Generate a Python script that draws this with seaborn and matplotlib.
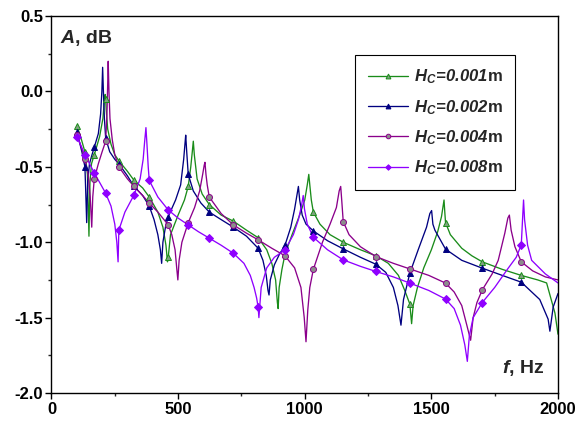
import matplotlib
matplotlib.use("Agg")
import matplotlib.pyplot as plt
from matplotlib.lines import Line2D
from matplotlib.ticker import MultipleLocator
import pandas as pd
import seaborn as sns

sns.set_style("ticks")
plt.rcParams["font.family"] = ["Liberation Sans", "DejaVu Sans"]
plt.rcParams["mathtext.fontset"] = "custom"
plt.rcParams["mathtext.it"] = "Liberation Sans:italic:bold"
plt.rcParams["mathtext.rm"] = "Liberation Sans:italic:bold"
plt.rcParams["mathtext.bf"] = "Liberation Sans:italic:bold"

# frequencies where the symbols sit (same for all curves)
f_mark = [101, 132, 169, 214, 266, 326, 386, 461, 540, 623, 718, 816, 922,
          1034, 1152, 1281, 1415, 1556, 1701, 1855]

# --- H_C = 0.001 m ---
a1_mark = [-0.23, -0.40, -0.42, -0.05, -0.46, -0.59, -0.70, -1.10, -0.63, -0.75,
           -0.86, -0.97, -1.08, -0.80, -1.00, -1.09, -1.41, -0.87, -1.13, -1.22]
f1 = [115, 142, 148, 152, 158, 190, 203, 209, 212, 216, 222, 235, 250, 300, 360,
      420, 440, 452, 458, 470, 500, 525, 550, 556, 560, 564, 575, 595, 670, 770,
      850, 870, 885, 892, 895, 899, 910, 950, 980, 1000, 1010, 1016, 1020, 1026,
      1060, 1100, 1220, 1330, 1370, 1395, 1422, 1428, 1445, 1470, 1500, 1525,
      1540, 1550, 1553, 1575, 1620, 1660, 1780, 1920, 1955, 1988, 2000]
a1 = [-0.30, -0.55, -0.96, -0.60, -0.48, -0.30, -0.18, -0.06, -0.02, -0.12, -0.25,
      -0.35, -0.42, -0.53, -0.64, -0.80, -0.90, -1.02, -1.13, -0.95, -0.82, -0.72,
      -0.50, -0.40, -0.33, -0.42, -0.58, -0.68, -0.82, -0.92, -1.05, -1.14, -1.25,
      -1.40, -1.44, -1.30, -1.18, -0.95, -0.82, -0.72, -0.62, -0.55, -0.62, -0.72,
      -0.88, -0.95, -1.05, -1.14, -1.22, -1.32, -1.54, -1.42, -1.30, -1.17, -1.05,
      -0.93, -0.83, -0.72, -0.80, -0.95, -1.04, -1.09, -1.18, -1.25, -1.27, -1.47,
      -1.61]

# --- H_C = 0.002 m ---
a2_mark = [-0.27, -0.50, -0.37, -0.31, -0.48, -0.63, -0.76, -0.83, -0.55, -0.80,
           -0.90, -1.04, -1.02, -0.925, -1.044, -1.146, -1.205, -1.046, -1.172, -1.265]
f2 = [120, 135, 139, 143, 150, 160, 185, 194, 199, 202, 205, 209, 230, 250, 300,
      360, 405, 420, 430, 435, 440, 450, 490, 510, 522, 527, 530, 534, 560, 590,
      670, 770, 835, 848, 855, 859, 864, 880, 900, 945, 960, 970, 975, 980, 990,
      1005, 1090, 1220, 1320, 1350, 1368, 1380, 1390, 1448, 1481, 1494, 1501,
      1506, 1514, 1620, 1780, 1928, 1961, 1968, 1981, 2000]
a2 = [-0.40, -0.65, -0.87, -0.60, -0.48, -0.42, -0.28, -0.15, 0.0, 0.16, 0.0,
      -0.18, -0.40, -0.45, -0.56, -0.69, -0.85, -0.95, -1.05, -1.14, -1.00, -0.90,
      -0.72, -0.62, -0.45, -0.35, -0.29, -0.40, -0.66, -0.74, -0.85, -0.96, -1.12,
      -1.22, -1.32, -1.35, -1.25, -1.15, -1.08, -0.90, -0.78, -0.68, -0.63, -0.72,
      -0.82, -0.88, -0.99, -1.10, -1.20, -1.30, -1.42, -1.55, -1.38, -1.05, -0.90,
      -0.81, -0.79, -0.88, -0.92, -1.12, -1.22, -1.38, -1.51, -1.59, -1.43, -1.34]

# --- H_C = 0.004 m ---
a3_mark = [-0.29, -0.45, -0.58, -0.33, -0.50, -0.63, -0.74, -0.885, -0.87, -0.70,
           -0.885, -0.984, -1.09, -1.18, -0.863, -1.095, -1.177, -1.271, -1.316, -1.13]
f3 = [120, 145, 153, 159, 163, 185, 200, 219, 222, 224, 227, 231, 240, 250, 300,
      360, 420, 475, 488, 495, 499, 504, 515, 565, 585, 597, 603, 606, 610, 615,
      670, 770, 870, 960, 985, 998, 1005, 1012, 1020, 1070, 1100, 1125, 1136, 1142,
      1146, 1175, 1220, 1350, 1490, 1590, 1620, 1640, 1655, 1665, 1680, 1740, 1764,
      1790, 1802, 1808, 1815, 1830, 1900, 1950, 2000]
a3 = [-0.38, -0.55, -0.70, -0.90, -0.70, -0.48, -0.40, -0.15, 0.05, 0.20, 0.0,
      -0.18, -0.32, -0.42, -0.58, -0.69, -0.80, -0.95, -1.05, -1.18, -1.25, -1.12,
      -1.00, -0.77, -0.66, -0.55, -0.49, -0.47, -0.55, -0.62, -0.81, -0.94, -1.04,
      -1.17, -1.30, -1.50, -1.66, -1.45, -1.30, -1.00, -0.88, -0.77, -0.66, -0.63,
      -0.72, -0.95, -1.03, -1.14, -1.22, -1.33, -1.42, -1.55, -1.65, -1.50, -1.40,
      -1.21, -1.12, -0.94, -0.84, -0.82, -0.92, -1.03, -1.19, -1.23, -1.25]

# --- H_C = 0.008 m ---
a4_mark = [-0.30, -0.42, -0.54, -0.675, -0.92, -0.686, -0.59, -0.786, -0.885, -0.973,
           -1.073, -1.43, -1.051, -0.967, -1.117, -1.194, -1.271, -1.377, -1.40, -1.018]
f4 = [235, 250, 258, 263, 290, 350, 362, 368, 373, 377, 382, 420, 500, 580, 670,
      760, 785, 800, 810, 819, 828, 850, 880, 955, 975, 987, 994, 999, 1010, 1090,
      1220, 1350, 1490, 1590, 1615, 1632, 1642, 1650, 1665, 1750, 1800, 1835, 1860,
      1864, 1868, 1880, 1896, 1950, 2000]
a4 = [-0.76, -0.88, -1.00, -1.13, -0.80, -0.58, -0.45, -0.33, -0.24, -0.35, -0.50,
      -0.70, -0.84, -0.93, -1.02, -1.14, -1.22, -1.30, -1.37, -1.50, -1.30, -1.17,
      -1.10, -0.95, -0.85, -0.76, -0.69, -0.78, -0.88, -1.05, -1.16, -1.23, -1.32,
      -1.44, -1.55, -1.68, -1.79, -1.62, -1.50, -1.30, -1.18, -1.10, -0.85, -0.72,
      -0.85, -1.02, -1.12, -1.21, -1.27]

labels = [r"$H_C\!=\!0.001$m", r"$H_C\!=\!0.002$m",
          r"$H_C\!=\!0.004$m", r"$H_C\!=\!0.008$m"]
colors = ["#1a8c1a", "#000080", "#8b008b", "#8f00ff"]
marks = ["^", "^", "o", "D"]
mfaces = ["#7fa27f", "#000080", "#8c8c8c", "#8f00ff"]
msizes = [4.5, 4.5, 4.3, 3.8]

series = [(f1, a1, a1_mark), (f2, a2, a2_mark), (f3, a3, a3_mark), (f4, a4, a4_mark)]

fig = plt.figure(figsize=(5.81, 4.30), dpi=100)
ax = fig.add_axes([0.0886, 0.086, 0.8718, 0.8767])

handles = []
for (fx, ax_vals, am), c, m, mf, ms, lab in zip(series, colors, marks, mfaces, msizes, labels):
    df = pd.DataFrame({"f": fx + f_mark, "A": ax_vals + am}).sort_values("f")
    sns.lineplot(data=df, x="f", y="A", ax=ax, color=c, lw=0.95, estimator=None)
    ax.plot(f_mark, am, ls="none", marker=m, ms=ms, mfc=mf, mec=c, mew=0.7, zorder=3)
    handles.append(Line2D([], [], color=c, lw=0.95, marker=m, ms=ms - 1, mfc=mf, mec=c, mew=0.7))

ax.set_xlim(0, 2000)
ax.set_ylim(-2.0, 0.5)
ax.xaxis.set_major_locator(MultipleLocator(500))
ax.xaxis.set_minor_locator(MultipleLocator(250))
ax.yaxis.set_major_locator(MultipleLocator(0.5))
ax.yaxis.set_minor_locator(MultipleLocator(0.25))
ax.yaxis.set_major_formatter(matplotlib.ticker.FormatStrFormatter("%.1f"))
ax.set_xlabel("")
ax.set_ylabel("")
for s in ax.spines.values():
    s.set_visible(True)
    s.set_linewidth(1.0)
    s.set_color("black")
ax.tick_params(which="major", direction="out", length=4.5, width=1.0, labelsize=12, colors="black")
ax.tick_params(which="minor", direction="out", length=2.5, width=1.0)
ax.tick_params(axis="x", which="major", pad=2)
ax.tick_params(axis="y", which="major", pad=1.5)
for lab in ax.get_xticklabels() + ax.get_yticklabels():
    lab.set_fontweight("bold")

ax.text(0.017, 0.928, r"$A$, dB", transform=ax.transAxes, fontsize=14,
        fontweight="bold", ha="left", va="baseline")
ax.text(0.974, 0.052, r"$f$, Hz", transform=ax.transAxes, fontsize=14,
        fontweight="bold", ha="right", va="baseline")

leg = ax.legend(handles, labels, loc="upper right", bbox_to_anchor=(0.915, 0.8966),
                borderaxespad=0, fancybox=False, edgecolor="black", framealpha=1,
                handlelength=2.4, labelspacing=0.7, borderpad=0.75, handletextpad=0.35,
                prop={"weight": "bold", "size": 12})
leg.get_frame().set_linewidth(0.8)

plt.savefig("out.png", dpi=100)
